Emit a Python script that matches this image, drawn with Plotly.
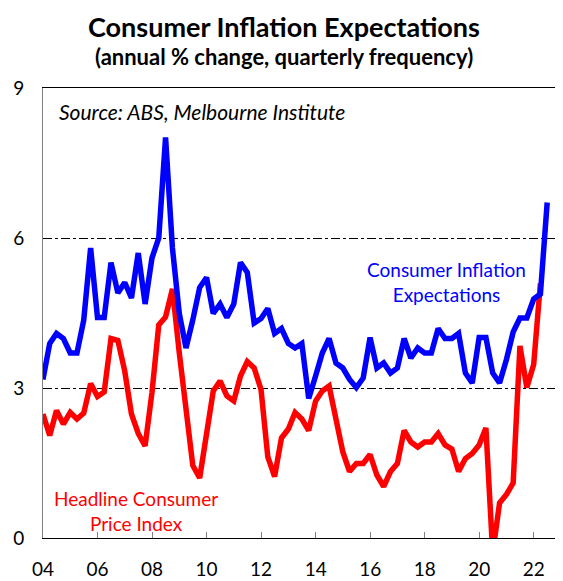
import plotly.graph_objects as go

# Quarter-end dates, Dec 2003 onwards
quarter_ends = []
for yr in range(2003, 2023):
    for md in ["03-31", "06-30", "09-30", "12-31"]:
        quarter_ends.append(f"{yr}-{md}")
quarter_ends = quarter_ends[quarter_ends.index("2003-12-31"):]

expectations = [
    3.17, 3.89, 4.09, 3.99, 3.70, 3.70, 4.36, 5.80, 4.41, 4.41,
    5.51, 4.90, 5.11, 4.80, 5.70, 4.68, 5.60, 6.00, 8.01, 5.80,
    4.49, 3.80, 4.36, 5.01, 5.21, 4.49, 4.68, 4.41, 4.68, 5.51,
    5.31, 4.30, 4.39, 4.59, 4.09, 4.19, 3.89, 3.80, 3.89, 2.79,
    3.24, 3.70, 3.99, 3.50, 3.40, 3.17, 3.01, 3.20, 4.01, 3.40,
    3.50, 3.30, 3.40, 3.99, 3.60, 3.80, 3.70, 3.70, 4.19, 3.99,
    3.99, 4.09, 3.30, 3.10, 4.01, 4.01, 3.30, 3.10, 3.57, 4.12,
    4.40, 4.40, 4.78, 4.88, 6.71,
]

headline_cpi = [
    2.48, 2.05, 2.55, 2.28, 2.51, 2.38, 2.50, 3.09, 2.83, 2.92,
    3.99, 3.95, 3.34, 2.48, 2.09, 1.84, 2.91, 4.26, 4.42, 4.98,
    3.70, 2.50, 1.45, 1.20, 2.12, 2.94, 3.14, 2.84, 2.74, 3.24,
    3.53, 3.40, 2.97, 1.62, 1.23, 2.00, 2.18, 2.51, 2.38, 2.15,
    2.74, 2.94, 3.04, 2.31, 1.72, 1.33, 1.49, 1.49, 1.67, 1.26,
    1.03, 1.33, 1.49, 2.15, 1.92, 1.82, 1.92, 1.92, 2.09, 1.86,
    1.78, 1.33, 1.59, 1.69, 1.86, 2.20, -0.30, 0.70, 0.87, 1.10,
    3.84, 3.01, 3.47, 5.09,
]

x_tick_vals = [f"{y}-01-01" for y in range(2004, 2023, 2)]
x_tick_text = ["04", "06", "08", "10", "12", "14", "16", "18", "20", "22"]
y_tick_vals = [0, 3, 6, 9]

FONT = "Lato, Carlito, Calibri, sans-serif"

fig = go.Figure()
fig.add_trace(go.Scatter(
    x=quarter_ends[:len(headline_cpi)], y=headline_cpi, mode="lines",
    line=dict(color="#FF0000", width=5.5), name="Headline CPI",
))
fig.add_trace(go.Scatter(
    x=quarter_ends[:len(expectations)], y=expectations, mode="lines",
    line=dict(color="#0000FF", width=5.5), name="Expectations",
))

fig.update_layout(
    width=555, height=573,
    margin=dict(l=35, r=1, t=80, b=37),
    paper_bgcolor="white", plot_bgcolor="white",
    showlegend=False,
    font=dict(family=FONT, size=19, color="black"),
    xaxis=dict(
        range=["2004-01-01", "2023-01-01"],
        tickvals=x_tick_vals, ticktext=x_tick_text,
        ticks="inside", ticklen=6, tickcolor="#808080", tickwidth=1,
        showgrid=False, zeroline=False,
        showline=True, linecolor="black", linewidth=1, mirror=True,
        tickfont=dict(size=19, family=FONT),
        ticklabelstandoff=14,
    ),
    yaxis=dict(
        range=[0, 9], tickvals=y_tick_vals,
        ticks="", showgrid=True, gridcolor="black", gridwidth=1,
        griddash="dashdot", zeroline=False,
        showline=True, linecolor="#808080", linewidth=1, mirror=True,
        tickfont=dict(size=19, family=FONT),
        ticklabelstandoff=14,
    ),
    annotations=[
        dict(text="<b>Consumer Inflation Expectations</b>", xref="paper", yref="paper",
             x=0.466, y=1.137, xanchor="center", yanchor="middle", showarrow=False,
             font=dict(size=27, family=FONT, color="black")),
        dict(text="<b>(annual % change, quarterly frequency)</b>", xref="paper", yref="paper",
             x=0.466, y=1.071, xanchor="center", yanchor="middle", showarrow=False,
             font=dict(size=22, family=FONT, color="black")),
        dict(text="<i>Source: ABS, Melbourne Institute</i>", xref="paper", yref="paper",
             x=0.027, y=0.947, xanchor="left", yanchor="middle", showarrow=False,
             font=dict(size=21, family=FONT, color="black")),
        dict(text="Consumer Inflation<br>Expectations", xref="paper", yref="paper",
             x=0.778, y=0.570, xanchor="center", yanchor="middle", showarrow=False,
             align="center", font=dict(size=19, family=FONT, color="#0000FF")),
        dict(text="Headline Consumer<br>Price Index", xref="paper", yref="paper",
             x=0.179, y=0.060, xanchor="center", yanchor="middle", showarrow=False,
             align="center", font=dict(size=19, family=FONT, color="#FF0000")),
    ],
)

fig.write_html("out.html")
